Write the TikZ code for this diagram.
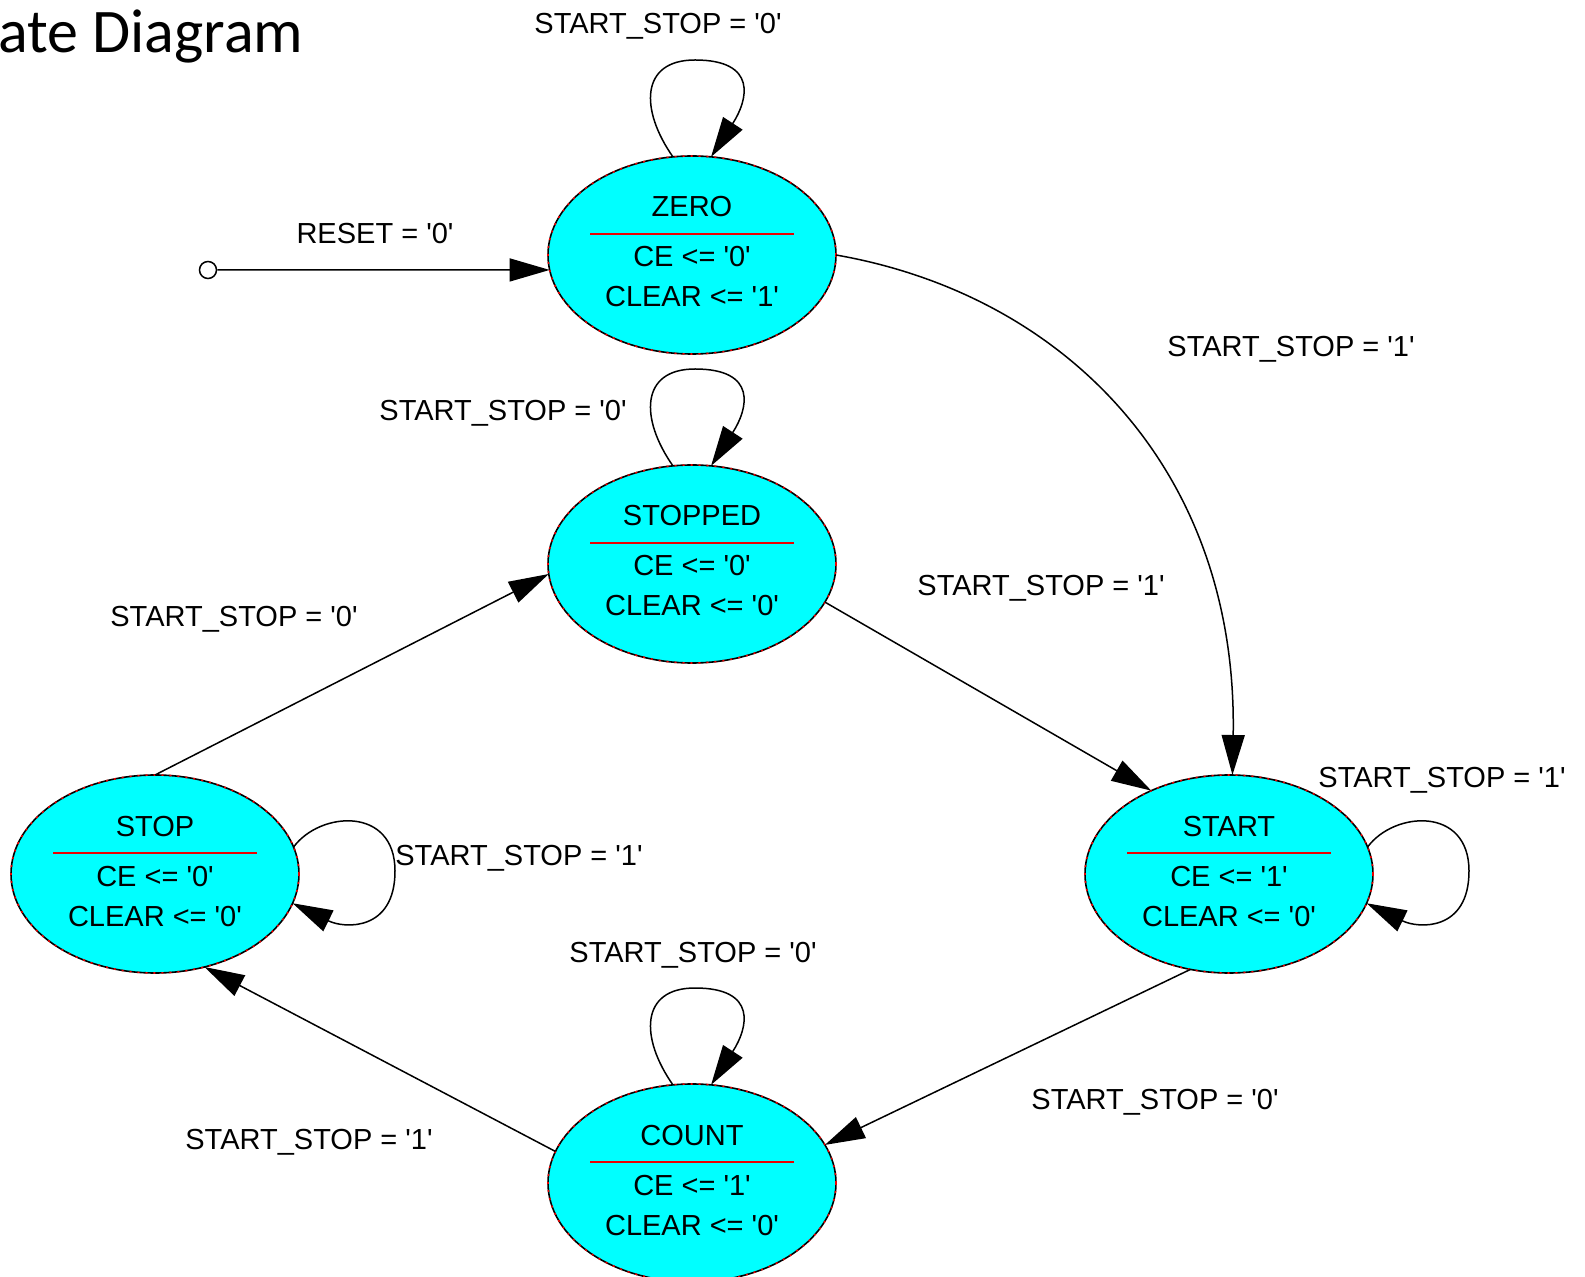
\documentclass[tikz,border=0pt]{standalone}
\usepackage{fontspec}
\newfontfamily\labfont{Liberation Sans}
\newfontfamily\titlefont{Carlito}
\usetikzlibrary{arrows.meta,shapes.geometric}
\definecolor{stcyan}{RGB}{0,255,255}
\definecolor{stred}{RGB}{235,0,0}

\newcommand\fsmstate[6]{%
  \node[stateell] (#1) at (#2,#3) {};
  \draw[redrule] ([shift={(-102,-21)}]#1.center) -- ([shift={(102,-21)}]#1.center);
  \node[sttext] (#1-name) at ([shift={(0,-38)}]#1.center) {#4};
  \node[sttext] (#1-ce) at ([shift={(0,12)}]#1.center) {CE <= '#5'};
  \node[sttext] (#1-clr) at ([shift={(0,52)}]#1.center) {CLEAR <= '#6'};
}
\newcommand\toploop[1]{%
  \draw[edge] (#1.101) .. controls ([shift={(-52,-145)}]#1.center) and ([shift={(-52,-195)}]#1.center) .. ([shift={(3,-195)}]#1.center)
    .. controls ([shift={(66,-195)}]#1.center) and ([shift={(56,-155)}]#1.center) .. (#1.79);
}
\newcommand\rightloop[1]{%
  \draw[edge] (#1.11) .. controls ([shift={(165,-63)}]#1.center) and ([shift={(240,-68)}]#1.center) .. ([shift={(240,-3)}]#1.center)
    .. controls ([shift={(240,57)}]#1.center) and ([shift={(190,55)}]#1.center) .. (#1.348);
}

\begin{document}
\begin{tikzpicture}[x=0.5pt,y=-0.5pt,
  stateell/.style={ellipse, draw=black, fill=stcyan, line width=0.8pt,
    minimum width=144pt, minimum height=99pt, inner sep=0pt, outer sep=0pt,
    postaction={draw=stred, line width=0.8pt, dash pattern=on 1pt off 3pt}},
  sttext/.style={font=\labfont\fontsize{14.5pt}{17pt}\selectfont, inner sep=0pt, anchor=base},
  lab/.style={font=\labfont\fontsize{14.5pt}{17pt}\selectfont, inner sep=0pt, anchor=base},
  edge/.style={draw=black, line width=0.75pt, -{Triangle[length=20pt,width=11.5pt]}},
  redrule/.style={draw=stred, line width=1pt}]

\fill[white] (0,0) rectangle (1585,1277);
\useasboundingbox (0,0) rectangle (1585,1277);

\node[font=\titlefont\fontsize{31pt}{36pt}\selectfont, anchor=base west, inner sep=0pt] (title) at (-2,53) {ate Diagram};

\fsmstate{zero}{692}{255}{ZERO}{0}{1}
\fsmstate{stopped}{692}{564}{STOPPED}{0}{0}
\fsmstate{stop}{155}{874}{STOP}{0}{0}
\fsmstate{start}{1229}{874}{START}{1}{0}
\fsmstate{count}{692}{1183}{COUNT}{1}{0}

\node[circle, draw=black, line width=0.75pt, fill=white, minimum size=8.5pt, inner sep=0pt] (init) at (208,270) {};
\draw[edge] (init) -- (zero.186);

\toploop{zero}
\toploop{stopped}
\toploop{count}
\rightloop{stop}
\rightloop{start}

\draw[edge] (zero.east) .. controls (1065,295) and (1238,470) .. (start.88);
\draw[edge] (stopped.344) -- (start.133);
\draw[edge] (start.248) -- (count.16);
\draw[edge] (count.167) -- (stop.298);
\draw[edge] (stop.north) -- (stopped.184);

\node[lab] (l-reset) at (375,244) {RESET = '0'};
\node[lab] (l-zero) at (658,34) {START\_STOP = '0'};
\node[lab] (l-zs) at (1291,357) {START\_STOP = '1'};
\node[lab] (l-stopped) at (503,421) {START\_STOP = '0'};
\node[lab] (l-ss) at (1041,596) {START\_STOP = '1'};
\node[lab] (l-sp) at (234,627) {START\_STOP = '0'};
\node[lab] (l-start) at (1442,788) {START\_STOP = '1'};
\node[lab] (l-stop) at (519,865) {START\_STOP = '1'};
\node[lab] (l-count) at (693,962) {START\_STOP = '0'};
\node[lab] (l-sc) at (1155,1109) {START\_STOP = '0'};
\node[lab] (l-cs) at (309,1149) {START\_STOP = '1'};
\end{tikzpicture}
\end{document}
